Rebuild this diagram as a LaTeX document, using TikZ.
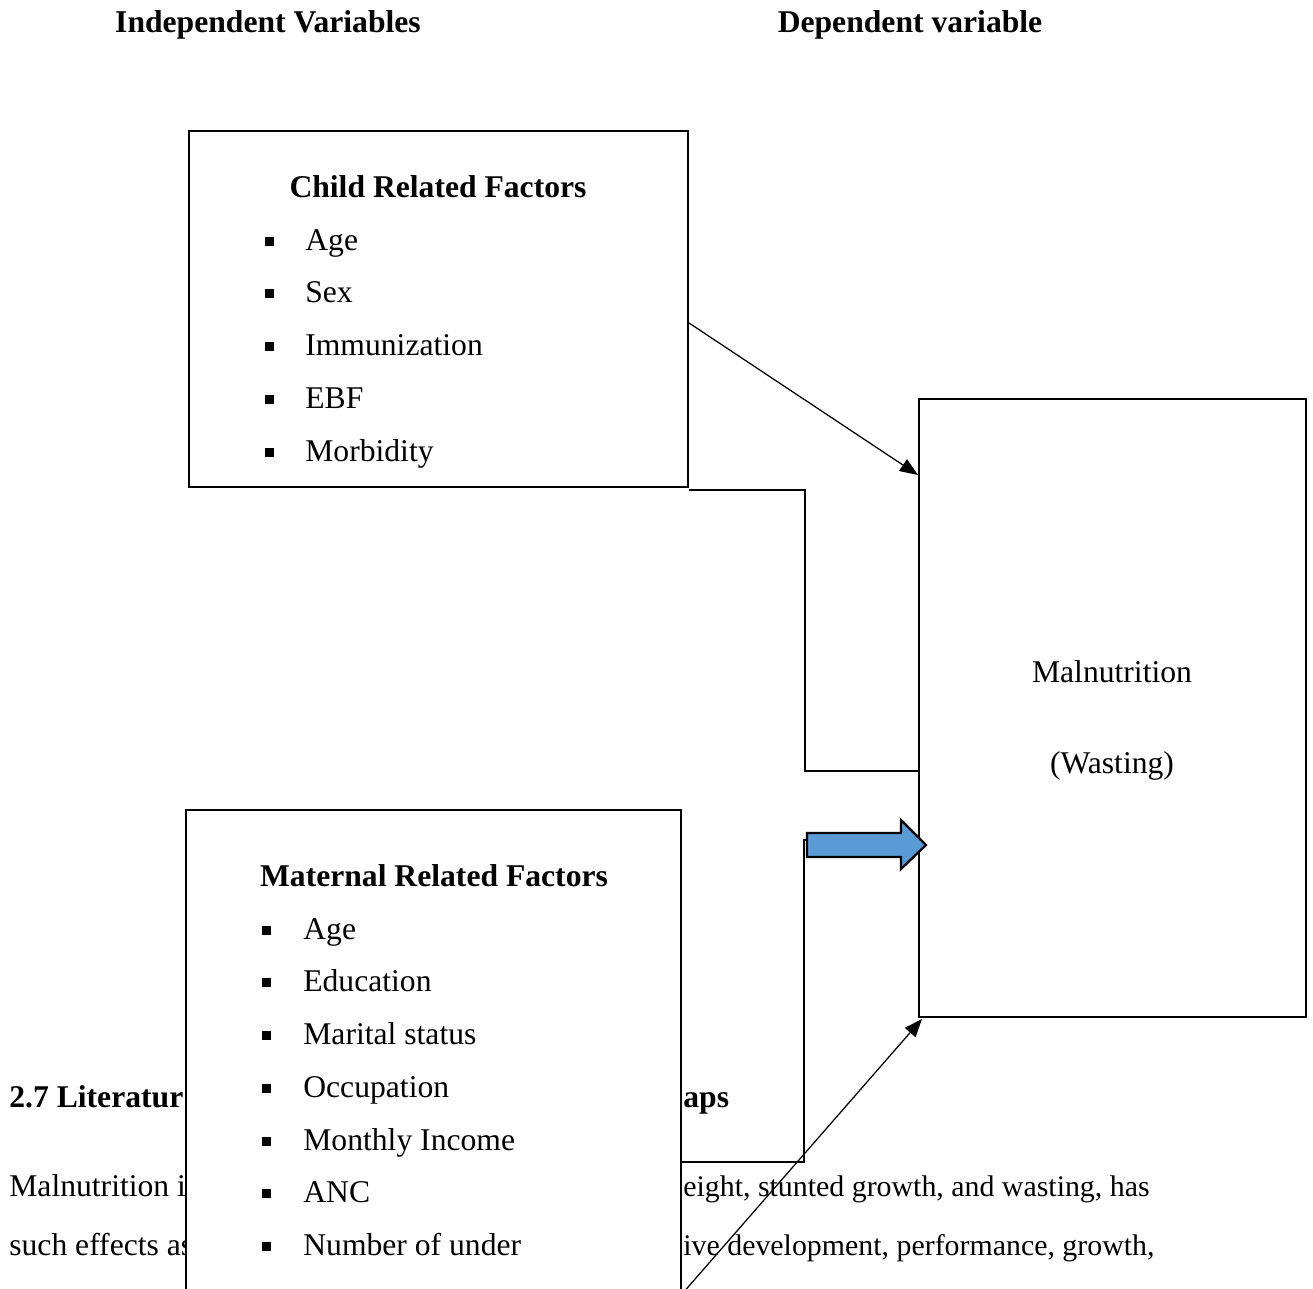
\documentclass[tikz,border=0pt]{standalone}
\usepackage{fontspec}
\setmainfont{Liberation Serif}
\definecolor{arrowblue}{RGB}{91,155,213}
\usetikzlibrary{arrows.meta}

\begin{document}
\begin{tikzpicture}[x=0.2mm,y=-0.2mm,
  every node/.style={font=\fontsize{18}{22}\selectfont, inner sep=0pt},
  hd/.style={font=\fontsize{18}{22}\selectfont\bfseries},
  txt/.style={anchor=base west},
  para/.style={anchor=base west, font=\fontsize{17}{21}\selectfont},
  factorbox/.style={draw, line width=0.4mm, fill=white},
  bul/.style={fill, minimum size=1.8mm},
  link/.style={line width=0.25mm},
  arr/.style={link, -{Triangle[length=3.6mm,width=2.8mm]}}]
\useasboundingbox (0,0) rectangle (1313,1289);
\clip (0,0) rectangle (1313,1289);

\node[hd, anchor=base] (indep) at (268,32) {Independent Variables};
\node[hd, anchor=base] (dep) at (910,32) {Dependent variable};

% page text behind the picture
\node[hd, txt] (sec) at (9,1107) {2.7 Literatur};
\node[hd, txt] (secr) at (683,1107) {aps};
\node[txt] (para1) at (9,1196) {Malnutrition i};
\node[para] (para1r) at (683,1196) {eight, stunted growth, and wasting, has};
\node[txt] (para2) at (9,1255) {such effects as};
\node[para] (para2r) at (683,1255) {ive development, performance, growth,};

\node[factorbox, minimum width=99.8mm, minimum height=71.2mm] (child) at (438.5,309) {};
\node[factorbox, minimum width=77.4mm, minimum height=123.6mm] (wast) at (1112.5,708) {};
\node[factorbox, minimum width=99mm, minimum height=118mm] (mat) at (433.5,1105) {};

\node[hd, anchor=base] (ctitle) at (438,197) {Child Related Factors};
\node[bul] (cb1) at (269,241) {};
\node[txt] (c1) at (305,250) {Age};
\node[bul] (cb2) at (269,293) {};
\node[txt] (c2) at (305,302) {Sex};
\node[bul] (cb3) at (269,346) {};
\node[txt] (c3) at (305,355) {Immunization};
\node[bul] (cb4) at (269,399) {};
\node[txt] (c4) at (305,408) {EBF};
\node[bul] (cb5) at (269,452) {};
\node[txt] (c5) at (305,461) {Morbidity};

\node[hd, anchor=base] (mtitle) at (434,886) {Maternal Related Factors};
\node[bul] (mb1) at (266,930) {};
\node[txt] (m1) at (303,939) {Age};
\node[bul] (mb2) at (266,982) {};
\node[txt] (m2) at (303,991) {Education};
\node[bul] (mb3) at (266,1035) {};
\node[txt] (m3) at (303,1044) {Marital status};
\node[bul] (mb4) at (266,1088) {};
\node[txt] (m4) at (303,1097) {Occupation};
\node[bul] (mb5) at (266,1141) {};
\node[txt] (m5) at (303,1150) {Monthly Income};
\node[bul] (mb6) at (266,1193) {};
\node[txt] (m6) at (303,1202) {ANC};
\node[bul] (mb7) at (266,1246) {};
\node[txt] (m7) at (303,1255) {Number of under};

\node[anchor=base] (mal) at (1112,682) {Malnutrition};
\node[anchor=base] (wst) at (1112,773) {(Wasting)};

% connectors
\draw[arr] (child.east |- 0,323) -- (wast.west |- 0,475);
\draw[link] ([yshift=-0.4mm]child.south east) -- ++(116,0) |- (wast.west |- 0,771);
\coordinate (tail) at (812,840);
\draw[link] (mat.east |- 0,1162) -- (804,1162) |- (tail);
\draw[fill=arrowblue, line width=0.45mm] (807,833) -- (901,833) -- (901,820) -- (926,845) -- (901,869) -- (901,857) -- (807,857) -- cycle;
\draw[arr] (mat.east |- 0,1294) -- ([xshift=0.8mm,yshift=-0.2mm]wast.south west);
\end{tikzpicture}
\end{document}
